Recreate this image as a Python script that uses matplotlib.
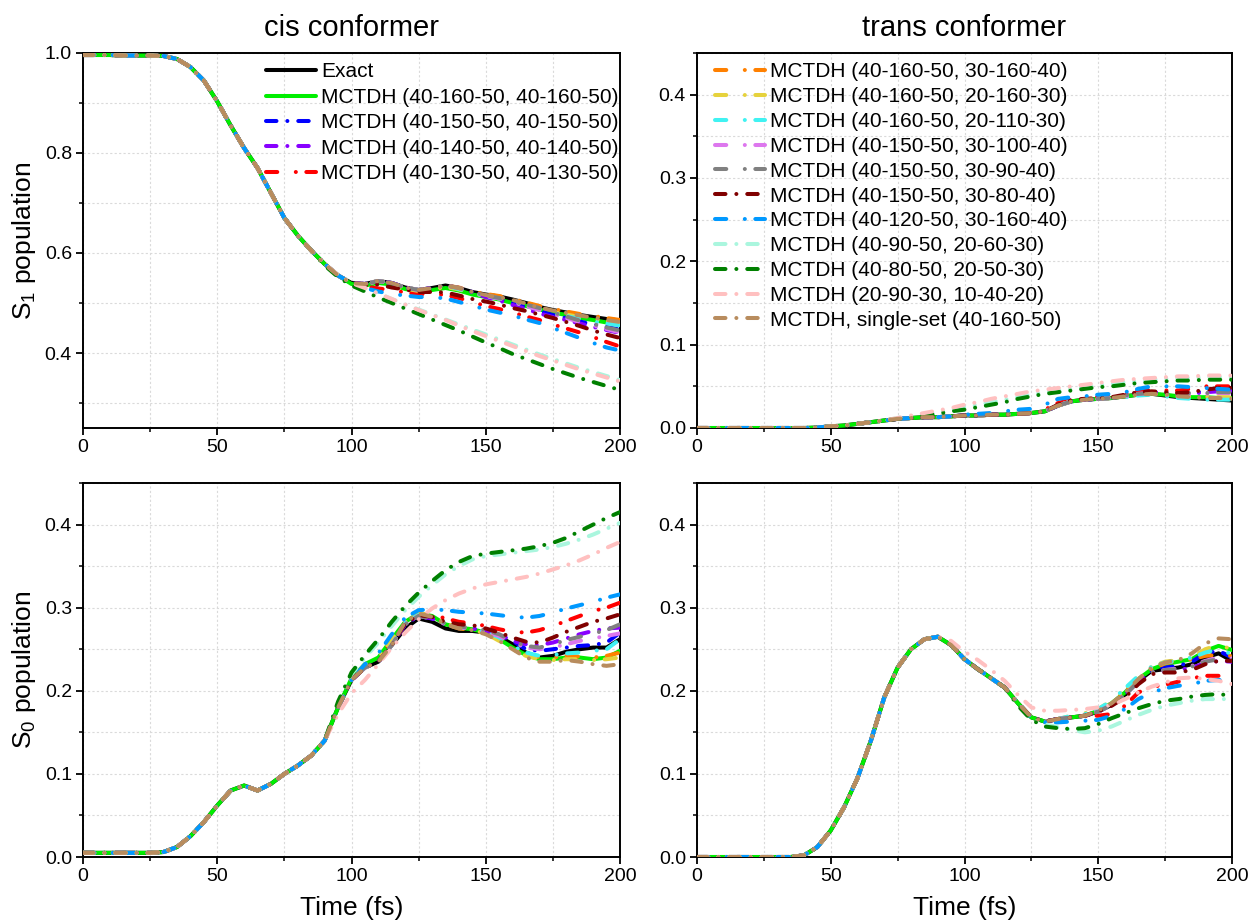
import matplotlib
matplotlib.use('Agg')
import matplotlib.pyplot as plt
from matplotlib.ticker import MultipleLocator, FormatStrFormatter

plt.rcParams['font.family'] = ['Liberation Sans', 'DejaVu Sans']
plt.rcParams['mathtext.fontset'] = 'custom'
plt.rcParams['mathtext.rm'] = 'Liberation Sans'
plt.rcParams['mathtext.it'] = 'Liberation Sans:italic'

# ---------------- data ----------------
T = list(range(0, 201, 5))

labels_cis = ["Exact",
              "MCTDH (40-160-50, 40-160-50)",
              "MCTDH (40-150-50, 40-150-50)",
              "MCTDH (40-140-50, 40-140-50)",
              "MCTDH (40-130-50, 40-130-50)"]
labels_trans = ["MCTDH (40-160-50, 30-160-40)",
                "MCTDH (40-160-50, 20-160-30)",
                "MCTDH (40-160-50, 20-110-30)",
                "MCTDH (40-150-50, 30-100-40)",
                "MCTDH (40-150-50, 30-90-40)",
                "MCTDH (40-150-50, 30-80-40)",
                "MCTDH (40-120-50, 30-160-40)",
                "MCTDH (40-90-50, 20-60-30)",
                "MCTDH (40-80-50, 20-50-30)",
                "MCTDH (20-90-30, 10-40-20)",
                "MCTDH, single-set (40-160-50)"]

# exact curves (t = 0..200 step 5)
exact_s1_cis = [0.996, 0.996, 0.996, 0.995, 0.995, 0.995, 0.994, 0.988, 0.972, 0.945,
                0.903, 0.855, 0.810, 0.770, 0.720, 0.670, 0.635, 0.605, 0.578, 0.555,
                0.540, 0.538, 0.544, 0.540, 0.531, 0.526, 0.530, 0.535, 0.530, 0.522,
                0.517, 0.513, 0.507, 0.500, 0.492, 0.486, 0.481, 0.476, 0.472, 0.468, 0.465]
exact_s1_trans = [0, 0, 0, 0, 0, 0, 0, 0, 0, 0.0005, 0.002, 0.003,
                  0.005, 0.007, 0.009, 0.011, 0.012, 0.013, 0.013, 0.014, 0.015, 0.015,
                  0.016, 0.016, 0.017, 0.018, 0.020, 0.027, 0.032, 0.034, 0.035, 0.036,
                  0.038, 0.040, 0.041, 0.039, 0.037, 0.036, 0.035, 0.034, 0.033]
exact_s0_cis = [0.005, 0.005, 0.005, 0.005, 0.005, 0.005, 0.006, 0.012, 0.025, 0.042,
                0.062, 0.080, 0.086, 0.080, 0.088, 0.100, 0.110, 0.122, 0.140, 0.180,
                0.213, 0.228, 0.235, 0.255, 0.275, 0.287, 0.283, 0.275, 0.272, 0.272,
                0.270, 0.265, 0.256, 0.246, 0.240, 0.242, 0.247, 0.250, 0.252, 0.252, 0.262]
exact_s0_trans = [0, 0, 0, 0, 0, 0, 0, 0, 0.002, 0.012,
                  0.032, 0.060, 0.095, 0.140, 0.192, 0.228, 0.250, 0.262, 0.265, 0.255,
                  0.238, 0.226, 0.215, 0.204, 0.185, 0.168, 0.163, 0.166, 0.168, 0.170,
                  0.175, 0.183, 0.195, 0.212, 0.224, 0.226, 0.228, 0.232, 0.240, 0.245, 0.236]

# MCTDH curves: (time from which the curve departs from the exact one, values read from there on)
# order: green, blue, purple, red, orange, yellow, cyan, violet, gray, darkred,
#        dodgerblue, aquamarine, darkgreen, pink, single-set
tails_s1_cis = [
    (100, [0.538, 0.535, 0.540, 0.537, 0.528, 0.523, 0.526, 0.530, 0.525, 0.517, 0.512, 0.507, 0.500, 0.494, 0.487, 0.481, 0.476, 0.470, 0.466, 0.461, 0.457]),
    (150, [0.513, 0.508, 0.500, 0.492, 0.484, 0.476, 0.470, 0.463, 0.457, 0.452, 0.447]),
    (150, [0.512, 0.505, 0.496, 0.488, 0.479, 0.472, 0.466, 0.459, 0.452, 0.446, 0.440]),
    (105, [0.533, 0.529, 0.526, 0.521, 0.518, 0.518, 0.516, 0.510, 0.502, 0.494, 0.488, 0.481, 0.473, 0.466, 0.457, 0.449, 0.441, 0.432, 0.422, 0.413]),
    (140, [0.531, 0.523, 0.518, 0.514, 0.508, 0.501, 0.494, 0.488, 0.483, 0.478, 0.474, 0.470, 0.466]),
    (120, [0.529, 0.524, 0.527, 0.532, 0.527, 0.519, 0.514, 0.509, 0.502, 0.495, 0.488, 0.482, 0.477, 0.472, 0.468, 0.464, 0.460]),
    (140, [0.528, 0.520, 0.514, 0.509, 0.502, 0.495, 0.487, 0.480, 0.474, 0.468, 0.463, 0.459, 0.455]),
    (150, [0.514, 0.509, 0.502, 0.494, 0.486, 0.478, 0.470, 0.462, 0.455, 0.448, 0.441]),
    (150, [0.515, 0.510, 0.503, 0.497, 0.490, 0.481, 0.473, 0.465, 0.458, 0.451, 0.445]),
    (105, [0.536, 0.537, 0.531, 0.527, 0.522, 0.522, 0.521, 0.515, 0.508, 0.503, 0.497, 0.490, 0.484, 0.477, 0.470, 0.462, 0.454, 0.445, 0.437, 0.430]),
    (105, [0.530, 0.523, 0.518, 0.515, 0.512, 0.512, 0.509, 0.502, 0.495, 0.487, 0.481, 0.475, 0.467, 0.460, 0.450, 0.440, 0.430, 0.420, 0.411, 0.405]),
    (95, [0.556, 0.541, 0.530, 0.519, 0.508, 0.497, 0.487, 0.477, 0.467, 0.457, 0.447, 0.437, 0.427, 0.417, 0.407, 0.397, 0.388, 0.379, 0.370, 0.362, 0.354, 0.346]),
    (90, [0.575, 0.552, 0.535, 0.523, 0.511, 0.500, 0.489, 0.478, 0.467, 0.456, 0.445, 0.433, 0.421, 0.410, 0.398, 0.388, 0.378, 0.368, 0.359, 0.350, 0.342, 0.334, 0.326]),
    (95, [0.556, 0.540, 0.530, 0.519, 0.508, 0.497, 0.486, 0.476, 0.466, 0.455, 0.444, 0.434, 0.424, 0.414, 0.404, 0.394, 0.385, 0.376, 0.367, 0.359, 0.351, 0.343]),
    (140, [0.530, 0.522, 0.516, 0.512, 0.506, 0.499, 0.491, 0.485, 0.480, 0.475, 0.471, 0.466, 0.462]),
]
tails_s1_trans = [
    (160, [0.038, 0.040, 0.041, 0.040, 0.038, 0.037, 0.037, 0.036, 0.036]),
    (160, [0.039, 0.042, 0.043, 0.042, 0.042, 0.042, 0.044, 0.047, 0.047]),
    (160, [0.039, 0.042, 0.043, 0.042, 0.041, 0.041, 0.043, 0.044, 0.045]),
    (130, [0.022, 0.030, 0.034, 0.036, 0.037, 0.038, 0.040, 0.044, 0.046, 0.045, 0.045, 0.047, 0.050, 0.050, 0.050]),
    (160, [0.038, 0.040, 0.041, 0.040, 0.038, 0.037, 0.037, 0.036, 0.035]),
    (160, [0.038, 0.040, 0.041, 0.040, 0.038, 0.038, 0.038, 0.037, 0.037]),
    (160, [0.037, 0.039, 0.040, 0.038, 0.036, 0.035, 0.034, 0.034, 0.034]),
    (160, [0.038, 0.041, 0.042, 0.041, 0.040, 0.040, 0.041, 0.042, 0.042]),
    (160, [0.039, 0.041, 0.042, 0.042, 0.042, 0.042, 0.042, 0.043, 0.043]),
    (135, [0.028, 0.034, 0.035, 0.036, 0.037, 0.040, 0.043, 0.044, 0.043, 0.042, 0.043, 0.046, 0.048, 0.048]),
    (100, [0.016, 0.017, 0.018, 0.020, 0.022, 0.023, 0.028, 0.035, 0.037, 0.038, 0.040, 0.041, 0.043, 0.047, 0.050, 0.050, 0.050, 0.049, 0.048, 0.047, 0.046]),
    (60, [0.005, 0.007, 0.009, 0.012, 0.014, 0.017, 0.019, 0.022, 0.025, 0.028, 0.031, 0.034, 0.037, 0.040, 0.043, 0.045, 0.047, 0.049, 0.051, 0.053, 0.055, 0.056, 0.058, 0.059, 0.060, 0.060, 0.061, 0.061, 0.061]),
    (60, [0.005, 0.007, 0.009, 0.011, 0.013, 0.015, 0.017, 0.020, 0.022, 0.025, 0.028, 0.031, 0.035, 0.038, 0.041, 0.043, 0.045, 0.047, 0.049, 0.050, 0.052, 0.054, 0.055, 0.056, 0.057, 0.057, 0.058, 0.058, 0.058]),
    (60, [0.005, 0.007, 0.009, 0.012, 0.015, 0.018, 0.021, 0.024, 0.028, 0.031, 0.035, 0.038, 0.041, 0.044, 0.046, 0.048, 0.050, 0.052, 0.054, 0.056, 0.058, 0.059, 0.060, 0.061, 0.062, 0.062, 0.063, 0.063, 0.063]),
    (160, [0.038, 0.040, 0.041, 0.040, 0.038, 0.037, 0.036, 0.036, 0.035]),
]
tails_s0_cis = [
    (100, [0.215, 0.232, 0.240, 0.262, 0.283, 0.293, 0.290, 0.280, 0.276, 0.274, 0.270, 0.262, 0.252, 0.243, 0.238, 0.238, 0.240, 0.240, 0.238, 0.240, 0.248]),
    (120, [0.280, 0.290, 0.287, 0.280, 0.276, 0.275, 0.272, 0.267, 0.260, 0.250, 0.248, 0.250, 0.252, 0.254, 0.255, 0.258, 0.270]),
    (120, [0.280, 0.290, 0.287, 0.280, 0.276, 0.275, 0.272, 0.268, 0.260, 0.256, 0.255, 0.258, 0.263, 0.268, 0.272, 0.275, 0.276]),
    (115, [0.262, 0.283, 0.292, 0.292, 0.287, 0.283, 0.281, 0.278, 0.274, 0.271, 0.270, 0.273, 0.278, 0.284, 0.290, 0.296, 0.300, 0.306]),
    (120, [0.281, 0.291, 0.288, 0.280, 0.275, 0.273, 0.270, 0.263, 0.253, 0.244, 0.240, 0.240, 0.242, 0.241, 0.240, 0.242, 0.246]),
    (105, [0.232, 0.240, 0.262, 0.283, 0.294, 0.290, 0.281, 0.276, 0.273, 0.269, 0.260, 0.250, 0.242, 0.238, 0.237, 0.238, 0.238, 0.237, 0.238, 0.240]),
    (120, [0.282, 0.291, 0.288, 0.281, 0.276, 0.274, 0.271, 0.264, 0.254, 0.246, 0.242, 0.243, 0.245, 0.246, 0.248, 0.250, 0.262]),
    (120, [0.280, 0.290, 0.287, 0.280, 0.276, 0.275, 0.271, 0.266, 0.258, 0.252, 0.250, 0.252, 0.256, 0.260, 0.263, 0.266, 0.269]),
    (120, [0.280, 0.290, 0.287, 0.281, 0.277, 0.276, 0.273, 0.268, 0.260, 0.254, 0.252, 0.256, 0.261, 0.265, 0.269, 0.273, 0.280]),
    (120, [0.281, 0.291, 0.289, 0.283, 0.280, 0.279, 0.275, 0.270, 0.264, 0.259, 0.258, 0.264, 0.271, 0.277, 0.283, 0.287, 0.292]),
    (105, [0.232, 0.245, 0.268, 0.288, 0.297, 0.298, 0.297, 0.295, 0.294, 0.293, 0.291, 0.289, 0.288, 0.290, 0.294, 0.299, 0.303, 0.307, 0.312, 0.316]),
    (95, [0.185, 0.220, 0.240, 0.258, 0.278, 0.297, 0.313, 0.327, 0.340, 0.350, 0.358, 0.362, 0.364, 0.366, 0.368, 0.370, 0.373, 0.377, 0.382, 0.388, 0.395, 0.402]),
    (95, [0.187, 0.222, 0.243, 0.262, 0.283, 0.302, 0.318, 0.332, 0.345, 0.355, 0.362, 0.365, 0.367, 0.369, 0.371, 0.374, 0.378, 0.384, 0.392, 0.400, 0.408, 0.415]),
    (95, [0.172, 0.197, 0.213, 0.232, 0.252, 0.270, 0.286, 0.299, 0.309, 0.317, 0.323, 0.328, 0.331, 0.334, 0.337, 0.341, 0.346, 0.351, 0.357, 0.364, 0.372, 0.379]),
    (120, [0.283, 0.293, 0.289, 0.280, 0.275, 0.273, 0.268, 0.260, 0.250, 0.240, 0.235, 0.235, 0.237, 0.235, 0.232, 0.230, 0.232]),
]
tails_s0_trans = [
    (150, [0.176, 0.185, 0.198, 0.214, 0.226, 0.232, 0.235, 0.238, 0.248, 0.254, 0.249]),
    (150, [0.175, 0.183, 0.196, 0.212, 0.224, 0.228, 0.230, 0.235, 0.245, 0.248, 0.240]),
    (150, [0.175, 0.183, 0.195, 0.211, 0.222, 0.224, 0.225, 0.228, 0.233, 0.236, 0.235]),
    (120, [0.185, 0.168, 0.163, 0.166, 0.168, 0.170, 0.170, 0.172, 0.182, 0.198, 0.205, 0.207, 0.211, 0.215, 0.218, 0.218, 0.217]),
    (150, [0.176, 0.186, 0.200, 0.215, 0.226, 0.233, 0.236, 0.238, 0.242, 0.243, 0.242]),
    (140, [0.170, 0.173, 0.178, 0.188, 0.202, 0.217, 0.229, 0.235, 0.237, 0.240, 0.250, 0.255, 0.250]),
    (140, [0.170, 0.172, 0.178, 0.188, 0.203, 0.218, 0.229, 0.234, 0.236, 0.240, 0.246, 0.250, 0.244]),
    (150, [0.175, 0.183, 0.195, 0.211, 0.222, 0.225, 0.227, 0.230, 0.236, 0.240, 0.239]),
    (150, [0.175, 0.183, 0.195, 0.211, 0.222, 0.225, 0.226, 0.229, 0.235, 0.238, 0.237]),
    (150, [0.175, 0.182, 0.192, 0.208, 0.220, 0.222, 0.222, 0.225, 0.232, 0.236, 0.236]),
    (125, [0.166, 0.162, 0.162, 0.163, 0.164, 0.165, 0.170, 0.178, 0.190, 0.198, 0.203, 0.206, 0.208, 0.212, 0.213, 0.212]),
    (125, [0.166, 0.160, 0.156, 0.153, 0.150, 0.152, 0.157, 0.164, 0.171, 0.177, 0.182, 0.185, 0.188, 0.190, 0.190, 0.190]),
    (120, [0.182, 0.165, 0.157, 0.155, 0.154, 0.155, 0.160, 0.167, 0.173, 0.179, 0.184, 0.188, 0.190, 0.193, 0.195, 0.196, 0.194]),
    (95, [0.260, 0.247, 0.237, 0.225, 0.212, 0.195, 0.180, 0.176, 0.176, 0.177, 0.178, 0.180, 0.183, 0.190, 0.198, 0.205, 0.210, 0.215, 0.216, 0.214, 0.212, 0.208]),
    (150, [0.176, 0.185, 0.198, 0.214, 0.228, 0.234, 0.237, 0.245, 0.257, 0.263, 0.262]),
]

# ---------------- styles ----------------
mctdh_colors = ['#00ee00', '#0000ff', '#8800ff', '#ff0000', '#ff8000', '#e6d23c',
                '#40f2f2', '#dd77ee', '#808080', '#800000', '#0099ff', '#aaf6de',
                '#008000', '#ffc0c0', '#b88c5e']
TIGHT = (0, (2.6, 2.7, 0.01, 2.7))
LOOSE = (0, (2.8, 4.6, 0.01, 2.6))
mctdh_styles = ['-', TIGHT, TIGHT, LOOSE, LOOSE, LOOSE, LOOSE, LOOSE, LOOSE, TIGHT,
                LOOSE, TIGHT, TIGHT, TIGHT, TIGHT]
LW = 2.9


def full_curve(exact, t_from, vals):
    i = T.index(t_from)
    return exact[:i] + vals


fig = plt.figure(figsize=(12.51, 9.24), dpi=100)
W, H = 1251.0, 924.0
axes_px = {
    'tl': (83, 53, 620, 428),
    'tr': (697, 53, 1232, 428),
    'bl': (83, 483, 620, 857),
    'br': (697, 483, 1232, 857),
}


def make_ax(key):
    x0, y0, x1, y1 = axes_px[key]
    return fig.add_axes([x0 / W, 1 - y1 / H, (x1 - x0) / W, (y1 - y0) / H])


panels = [
    ('tl', exact_s1_cis, tails_s1_cis, (0.25, 1.0), 0.2, 0.1),
    ('tr', exact_s1_trans, tails_s1_trans, (0.0, 0.45), 0.1, 0.05),
    ('bl', exact_s0_cis, tails_s0_cis, (0.0, 0.45), 0.1, 0.05),
    ('br', exact_s0_trans, tails_s0_trans, (0.0, 0.45), 0.1, 0.05),
]

all_labels = labels_cis[1:] + labels_trans
axd = {}
for key, exact, tails, ylim, ymaj, ymin in panels:
    ax = make_ax(key)
    axd[key] = ax
    handles = []
    h, = ax.plot(T, exact, color='black', lw=LW, solid_capstyle='round',
                 label=labels_cis[0], zorder=3)
    handles.append(h)
    for k, (t0, vals) in enumerate(tails):
        y = full_curve(exact, t0, vals)
        h, = ax.plot(T, y, color=mctdh_colors[k], lw=LW, linestyle=mctdh_styles[k],
                     dash_capstyle='round', solid_capstyle='round',
                     label=all_labels[k], zorder=3 + k * 0.01)
        handles.append(h)
    ax.set_xlim(0, 200)
    ax.set_ylim(*ylim)
    ax.xaxis.set_major_locator(MultipleLocator(50))
    ax.xaxis.set_minor_locator(MultipleLocator(25))
    ax.yaxis.set_major_locator(MultipleLocator(ymaj))
    ax.yaxis.set_minor_locator(MultipleLocator(ymin))
    ax.yaxis.set_major_formatter(FormatStrFormatter('%.1f'))
    ax.xaxis.set_major_formatter(FormatStrFormatter('%d'))
    ax.grid(True, which='both', color='#dadada', linestyle=(0, (2, 2)), lw=0.8)
    ax.set_axisbelow(True)
    ax.tick_params(which='major', direction='out', length=5, width=1.3,
                   labelsize=14, top=False, right=False, pad=3)
    ax.tick_params(which='minor', direction='out', length=3, width=1.1,
                   top=False, right=False)
    for sp in ax.spines.values():
        sp.set_linewidth(1.4)
    if key == 'tl':
        ax.legend(handles[:5], labels_cis, loc='upper left', bbox_to_anchor=(0.341, 0.975),
                  frameon=False, fontsize=15, handlelength=2.4, handletextpad=0.25,
                  labelspacing=0.31, borderaxespad=0, borderpad=0)
    if key == 'tr':
        ax.legend(handles[5:], labels_trans, loc='upper left', bbox_to_anchor=(0.034, 0.975),
                  frameon=False, fontsize=15, handlelength=2.4, handletextpad=0.25,
                  labelspacing=0.28, borderaxespad=0, borderpad=0)

axd['tl'].set_title('cis conformer', fontsize=21, pad=12)
axd['tr'].set_title('trans conformer', fontsize=21, pad=12)
axd['tl'].set_ylabel('S$_1$ population', fontsize=19, labelpad=5)
axd['bl'].set_ylabel('S$_0$ population', fontsize=19, labelpad=5)
axd['bl'].set_xlabel('Time (fs)', fontsize=19, labelpad=8)
axd['br'].set_xlabel('Time (fs)', fontsize=19, labelpad=8)

fig.savefig('out.png', dpi=100)
